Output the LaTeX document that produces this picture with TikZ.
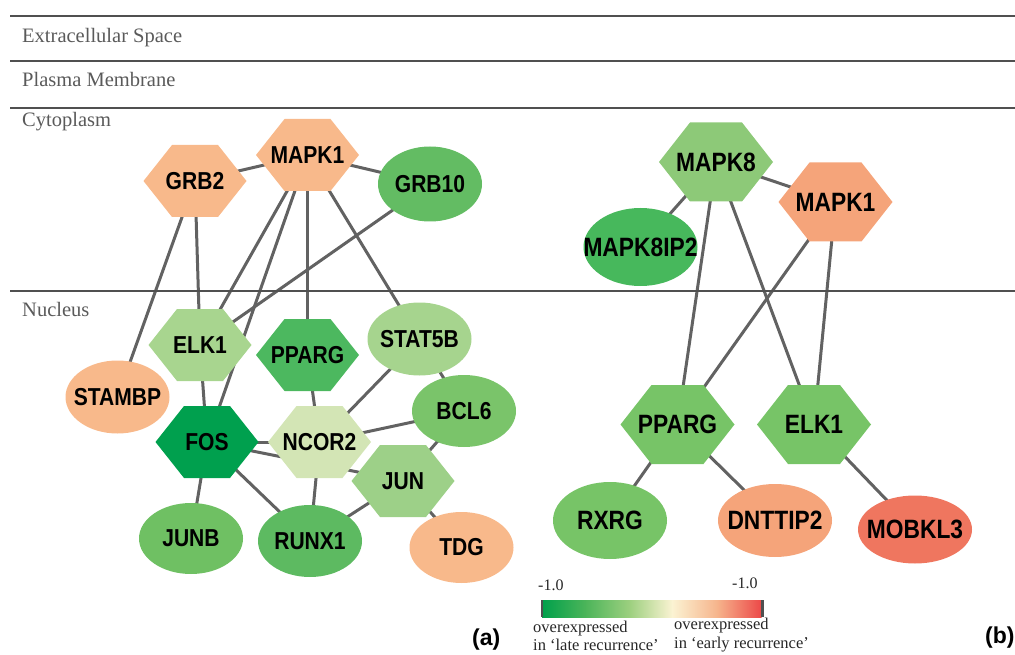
\documentclass[tikz,border=0pt]{standalone}
\usepackage{fontspec}
\setmainfont{Liberation Serif}
\newfontfamily\nodefnt{Liberation Sans}[FakeStretch=0.86]
\newfontfamily\labfnt{Liberation Sans}
\usetikzlibrary{shapes.geometric,backgrounds}

\definecolor{peach}{HTML}{F8B98B}
\definecolor{salmon}{HTML}{F5A47A}
\definecolor{redsal}{HTML}{EF765F}
\definecolor{cGRB}{HTML}{63BC63}
\definecolor{cELKa}{HTML}{A8D58F}
\definecolor{cPPa}{HTML}{4CB85F}
\definecolor{cSTAT}{HTML}{A6D48E}
\definecolor{cFOS}{HTML}{00A04E}
\definecolor{cNCOR}{HTML}{D3E5B5}
\definecolor{cBCL}{HTML}{7AC46A}
\definecolor{cJUN}{HTML}{9DD088}
\definecolor{cJUNB}{HTML}{6FC063}
\definecolor{cRUNX}{HTML}{5DBA61}
\definecolor{cMK8}{HTML}{8DC978}
\definecolor{cMIP}{HTML}{47B85C}
\definecolor{cB}{HTML}{77C467}
\definecolor{edgecol}{HTML}{626262}
\definecolor{sepcol}{HTML}{505050}
\definecolor{labcol}{HTML}{5A5A5A}
\definecolor{gA}{HTML}{00A04B}
\definecolor{gB}{HTML}{4DB55A}
\definecolor{gC}{HTML}{9ED080}
\definecolor{gD}{HTML}{FBF3D3}
\definecolor{gE}{HTML}{F6B48C}
\definecolor{gF}{HTML}{EC4848}

\tikzset{
  edge/.style={draw=edgecol, line width=3pt},
  sepline/.style={draw=sepcol, line width=2pt},
  compart/.style={anchor=base west, text=labcol, font=\fontsize{20.5}{22}\selectfont, inner sep=0pt},
  txtA/.style={inner sep=0pt, font=\nodefnt\bfseries\fontsize{24.5}{24.5}\selectfont},
  txtB/.style={inner sep=0pt, font=\nodefnt\bfseries\fontsize{26.5}{26.5}\selectfont},
  ellA/.style={ellipse, inner sep=0pt, minimum width=104, minimum height=73},
  ellB/.style={ellipse, inner sep=0pt, minimum width=114, minimum height=76},
  legtxt/.style={anchor=base west, inner sep=0pt, text=black!85, font=\fontsize{16.5}{18}\selectfont},
  panel/.style={anchor=base west, inner sep=0pt, font=\labfnt\bfseries\fontsize{23}{23}\selectfont}
}

% hexagon, panel (a) size: name, x, y, colour, text
\newcommand\hexA[5]{%
  \fill[#4] (#2-51.5,#3) -- (#2-23,#3-36) -- (#2+23,#3-36) -- (#2+51.5,#3)
     -- (#2+23,#3+36) -- (#2-23,#3+36) -- cycle;
  \node[txtA] (#1) at (#2,#3) {#5};}
% hexagon, panel (b) size
\newcommand\hexB[5]{%
  \fill[#4] (#2-57,#3) -- (#2-26,#3-39.5) -- (#2+26,#3-39.5) -- (#2+57,#3)
     -- (#2+26,#3+39.5) -- (#2-26,#3+39.5) -- cycle;
  \node[txtB] (#1) at (#2,#3) {#5};}

\begin{document}
\begin{tikzpicture}[x=1pt,y=-1pt]
\useasboundingbox (0,0) rectangle (1015,655);

% compartment separators
\draw[sepline] (10,16) -- (1015,16);
\draw[sepline] (10,61) -- (1015,61);
\draw[sepline] (10,108.5) -- (1015,108.5);
\draw[sepline] (10,291) -- (1015,291);
\node[compart] (lex) at (22,42.5) {Extracellular Space};
\node[compart] (lpm) at (22,87) {Plasma Membrane};
\node[compart] (lcy) at (22,127) {Cytoplasm};
\node[compart] (lnu) at (22,316.5) {Nucleus};

% ---- panel (a) ----
\hexA{grb2}{195}{181}{peach}{GRB2}
\hexA{mapkA}{307.5}{155}{peach}{MAPK1}
\node[ellA, fill=cGRB, minimum height=75, label={[txtA]center:GRB10}] (grb10) at (430,184) {};
\hexA{elkA}{200}{345}{cELKa}{ELK1}
\hexA{ppA}{307.5}{355}{cPPa}{PPARG}
\node[ellA, fill=cSTAT, label={[txtA]center:STAT5B}] (stat) at (419.5,339) {};
\node[ellA, fill=peach, label={[txtA]center:STAMBP}] (stam) at (117.5,397) {};
\hexA{fos}{207}{442}{cFOS}{FOS}
\hexA{ncor}{319.5}{442}{cNCOR}{NCOR2}
\node[ellA, fill=cBCL, minimum height=72, label={[txtA]center:BCL6}] (bcl) at (464,411) {};
\hexA{jun}{403}{481}{cJUN}{JUN}
\node[ellA, fill=cJUNB, minimum height=71, label={[txtA]center:JUNB}] (junb) at (191,538.5) {};
\node[ellA, fill=cRUNX, minimum height=72, label={[txtA]center:RUNX1}] (runx) at (310,541) {};
\node[ellA, fill=peach, minimum height=71, label={[txtA]center:TDG}] (tdg) at (461.5,547.5) {};

% ---- panel (b) ----
\hexB{mk8}{716}{162}{cMK8}{MAPK8}
\hexB{mkB}{835.5}{202}{salmon}{MAPK1}
\node[ellB, fill=cMIP, minimum height=78, label={[txtB]center:MAPK8IP2}] (mip) at (640.5,247) {};
\hexB{ppB}{677.5}{424.5}{cB}{PPARG}
\hexB{elkB}{814}{424.5}{cB}{ELK1}
\node[ellB, fill=cB, minimum height=77, label={[txtB]center:RXRG}] (rxrg) at (610,520.5) {};
\node[ellB, fill=salmon, minimum height=73, label={[txtB]center:DNTTIP2}] (dnt) at (775,520.5) {};
\node[ellB, fill=redsal, minimum height=68, label={[txtB]center:MOBKL3}] (mob) at (915,529.5) {};

% ---- connectors ----
\begin{scope}[on background layer]
\foreach \a/\b in {grb2/mapkA, mapkA/grb10, grb2/stam, grb2/elkA, mapkA/elkA,
  mapkA/fos, mapkA/ppA, mapkA/stat, grb10/elkA, elkA/fos, ppA/ncor, stat/ncor,
  stat/bcl, fos/ncor, fos/jun, ncor/bcl, bcl/jun, ncor/runx, fos/junb, fos/runx,
  jun/runx, jun/tdg,
  mk8/mkB, mk8/mip, mk8/ppB, mk8/elkB, mkB/ppB, mkB/elkB, ppB/rxrg, ppB/dnt, elkB/mob}
  \draw[edge] (\a.center) -- (\b.center);
\end{scope}

% ---- colour legend ----
\shade[left color=gA, right color=gB] (542,600) rectangle (586.5,617);
\shade[left color=gB, right color=gC] (586,600) rectangle (630.5,617);
\shade[left color=gC, right color=gD] (630,600) rectangle (672.5,617);
\shade[left color=gD, right color=gE] (672,600) rectangle (717.5,617);
\shade[left color=gE, right color=gF] (717,600) rectangle (761.5,617);
\fill[sepcol] (540.5,600) rectangle (543,617);
\fill[sepcol] (761,600) rectangle (763.5,617);
\node[legtxt, font=\fontsize{16}{16}\selectfont] (lminus) at (538,590) {-1.0};
\node[legtxt, font=\fontsize{16}{16}\selectfont] (rminus) at (732,588.5) {-1.0};
\node[legtxt] (lo1) at (533,632.5) {overexpressed};
\node[legtxt] (lo2) at (533,650) {in ‘late recurrence’};
\node[legtxt] (ro1) at (674,629.5) {overexpressed};
\node[legtxt] (ro2) at (674,648) {in ‘early recurrence’};

% panel labels
\node[panel] (pa) at (472,645) {(a)};
\node[panel] (pb) at (985,643) {(b)};
\end{tikzpicture}
\end{document}
